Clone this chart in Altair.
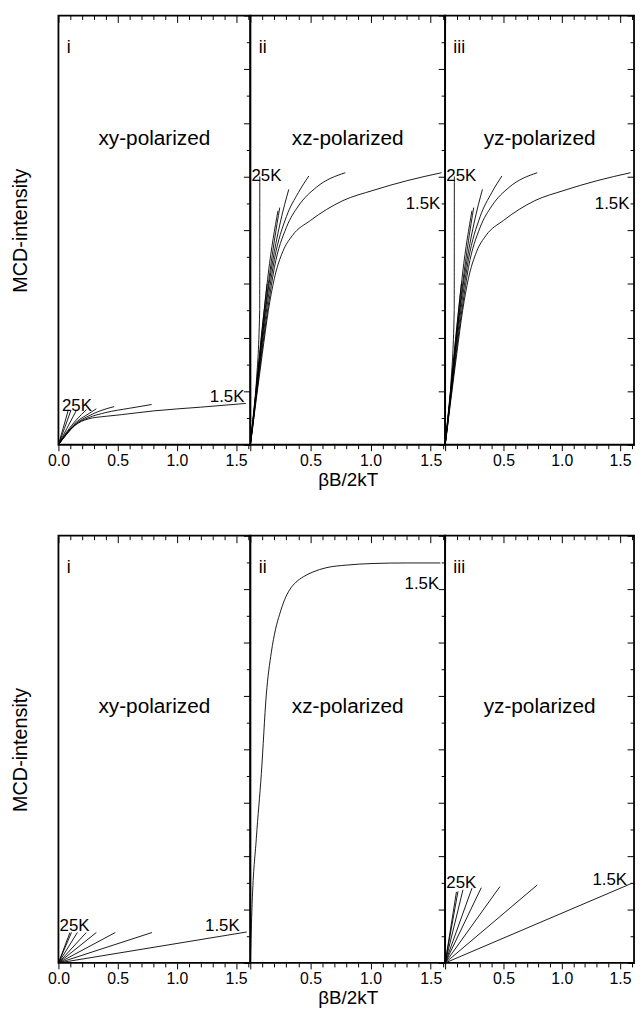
import altair as alt
import pandas as pd

FONT = "Liberation Sans"

# ---------------- data ----------------
TEMPS = ["1.5K", "3K", "5K", "7.5K", "10K", "15K", "20K", "25K"]

# top row, panel i (xy-polarized): (x list, y list) per temperature
TOP_XY = {
    "1.5K": ([0, 0.067, 0.14, 0.25, 0.4, 0.53, 0.8, 1.2, 1.583], [0, 0.19, 0.36, 0.48, 0.53, 0.56, 0.63, 0.70, 0.77]),
    "3K":   ([0, 0.07, 0.14, 0.25, 0.4, 0.6, 0.787], [0, 0.20, 0.37, 0.50, 0.60, 0.68, 0.75]),
    "5K":   ([0, 0.07, 0.14, 0.25, 0.35, 0.47], [0, 0.21, 0.38, 0.53, 0.63, 0.71]),
    "7.5K": ([0, 0.07, 0.15, 0.25, 0.32], [0, 0.22, 0.42, 0.57, 0.67]),
    "10K":  ([0, 0.07, 0.15, 0.237], [0, 0.24, 0.46, 0.655]),
    "15K":  ([0, 0.07, 0.153], [0, 0.30, 0.645]),
    "20K":  ([0, 0.05, 0.106], [0, 0.30, 0.645]),
    "25K":  ([0, 0.083], [0, 0.645]),
}

# top row, panel ii (xz-polarized)
TOP_XZ = {
    "1.5K": ([0, 0.05, 0.1, 0.15, 0.2, 0.27, 0.35, 0.5, 0.77, 1.02, 1.3, 1.59], [0, 0.85, 1.7, 2.5, 3.1, 3.6, 3.9, 4.18, 4.55, 4.74, 4.92, 5.07]),
    "3K":   ([0, 0.05, 0.1, 0.15, 0.2, 0.3, 0.4, 0.55, 0.79], [0, 0.9, 1.8, 2.6, 3.3, 4.05, 4.45, 4.8, 5.07]),
    "5K":   ([0, 0.05, 0.1, 0.15, 0.2, 0.3, 0.4, 0.487], [0, 0.95, 1.9, 2.75, 3.45, 4.25, 4.7, 5.01]),
    "7.5K": ([0, 0.05, 0.1, 0.15, 0.2, 0.25, 0.32], [0, 1.0, 2.0, 2.9, 3.6, 4.15, 4.76]),
    "10K":  ([0, 0.05, 0.1, 0.15, 0.2, 0.245], [0, 1.0, 2.05, 3.0, 3.8, 4.42]),
    "15K":  ([0, 0.05, 0.1, 0.15, 0.23], [0, 1.05, 2.15, 3.2, 4.36]),
    "20K":  ([0, 0.05, 0.1, 0.14], [0, 1.1, 2.2, 3.0]),
    "25K":  ([0, 0.05, 0.078, 0.079], [0, 1.15, 2.5, 5.0]),
}

# top row, panel iii (yz-polarized) – same shape as panel ii in the picture
TOP_YZ = {
    "1.5K": ([0, 0.05, 0.1, 0.15, 0.2, 0.27, 0.35, 0.5, 0.77, 1.02, 1.3, 1.59], [0, 0.85, 1.7, 2.5, 3.1, 3.6, 3.9, 4.18, 4.55, 4.74, 4.92, 5.07]),
    "3K":   ([0, 0.05, 0.1, 0.15, 0.2, 0.3, 0.4, 0.55, 0.79], [0, 0.9, 1.8, 2.6, 3.3, 4.05, 4.45, 4.8, 5.07]),
    "5K":   ([0, 0.05, 0.1, 0.15, 0.2, 0.3, 0.4, 0.487], [0, 0.95, 1.9, 2.75, 3.45, 4.25, 4.7, 5.01]),
    "7.5K": ([0, 0.05, 0.1, 0.15, 0.2, 0.25, 0.32], [0, 1.0, 2.0, 2.9, 3.6, 4.15, 4.76]),
    "10K":  ([0, 0.05, 0.1, 0.15, 0.2, 0.245], [0, 1.0, 2.05, 3.0, 3.8, 4.42]),
    "15K":  ([0, 0.05, 0.1, 0.15, 0.23], [0, 1.05, 2.15, 3.2, 4.36]),
    "20K":  ([0, 0.05, 0.1, 0.14], [0, 1.1, 2.2, 3.0]),
    "25K":  ([0, 0.05, 0.078, 0.079], [0, 1.15, 2.5, 5.0]),
}

# bottom row, panel i: straight lines from the origin to these end points
BOT_XY_XEND = [1.59, 0.79, 0.48, 0.32, 0.235, 0.16, 0.11, 0.097]
BOT_XY_YEND = [0.58, 0.57, 0.57, 0.57, 0.57, 0.57, 0.57, 0.57]

# bottom row, panel ii: one (overlapping) saturation curve
BOT_XZ_X = [0, 0.015, 0.05, 0.092, 0.133, 0.175, 0.21, 0.244, 0.285, 0.328, 0.38, 0.44, 0.52, 0.63, 0.8, 1.02, 1.3, 1.58]
BOT_XZ_Y = [0, 1.1, 2.33, 3.55, 5.02, 5.82, 6.25, 6.53, 6.8, 6.99, 7.13, 7.23, 7.32, 7.40, 7.45, 7.48, 7.49, 7.49]

# bottom row, panel iii: straight lines from the origin
BOT_YZ_XEND = [1.6, 0.79, 0.47, 0.31, 0.23, 0.153, 0.11, 0.097]
BOT_YZ_YEND = [1.49, 1.46, 1.43, 1.41, 1.40, 1.37, 1.34, 1.33]

PANEL_TITLES = ["xy-polarized", "xz-polarized", "yz-polarized"]
NUMERALS = ["i", "ii", "iii"]
PANEL_WIDTHS = [194, 197, 191]

# temperature labels: (text, x, y)
TOP_LEFT_LABELS = [("25K", 0.03, 0.73), ("25K", 0.01, 5.0), ("25K", 0.01, 5.0)]
TOP_RIGHT_LABELS = [("1.5K", 1.57, 0.89), ("1.5K", 1.58, 4.49), ("1.5K", 1.58, 4.49)]
BOT_LEFT_LABELS = [("25K", 0.01, 0.69), None, ("25K", 0.01, 1.5)]
BOT_RIGHT_LABELS = [("1.5K", 1.53, 0.69), ("1.5K", 1.57, 7.1), ("1.5K", 1.56, 1.56)]
TOP_TITLE_Y = 5.7
BOT_TITLE_Y = 4.8
NUMERAL_X = 0.07
NUMERAL_Y = 7.4

XTICKS = [round(i * 0.1, 1) for i in range(17)]
YTICKS = [i * 0.5 for i in range(17)]
X_DOMAIN = [0, 1.62]
Y_DOMAIN = [0, 8]


# ---------------- helpers ----------------
def curves_df(d):
    rows = []
    for t, (xs, ys) in d.items():
        for i, (x, y) in enumerate(zip(xs, ys)):
            rows.append({"T": t, "i": i, "x": x, "y": y})
    return pd.DataFrame(rows)


def rays_df(xend, yend):
    rows = []
    for t, x, y in zip(TEMPS, xend, yend):
        rows.append({"T": t, "i": 0, "x": 0.0, "y": 0.0})
        rows.append({"T": t, "i": 1, "x": x, "y": y})
    return pd.DataFrame(rows)


X_MAJOR = "abs(datum.value*2 - round(datum.value*2)) < 0.001"
Y_MAJOR = "abs(datum.value - round(datum.value)) < 0.001"

XS = alt.Scale(domain=X_DOMAIN, nice=False, zero=False)
YS = alt.Scale(domain=Y_DOMAIN, nice=False, zero=False)


def panel(df, col, title_y, left_lab, right_lab, height, smooth):
    if col == 0:
        lab_expr = f"({X_MAJOR}) ? format(datum.value, '.1f') : ''"
    else:
        lab_expr = f"(({X_MAJOR}) && datum.value > 0.01) ? format(datum.value, '.1f') : ''"
    xb = alt.Axis(
        orient="bottom", values=XTICKS, labelExpr=lab_expr, labelOverlap=False,
        labelFlush=False, domain=False, grid=False,
        tickSize={"expr": f"({X_MAJOR}) ? 6 : 4"}, labelPadding=2,
        labelFontSize=16, title="βB/2kT" if col == 1 else None,
        titleFontSize=19, titleFontWeight="normal", titlePadding=2,
    )
    if col == 0:
        yl = alt.Axis(orient="left", ticks=False, labels=False, domain=False, grid=False,
                      title="MCD-intensity", titleFontSize=20, titleFontWeight="normal",
                      titlePadding=28, minExtent=0)
    else:
        yl = None
    mark = alt.Chart(df).mark_line(color="black", strokeWidth=0.9,
                                   interpolate="monotone" if smooth else "linear")
    lines = mark.encode(
        x=alt.X("x:Q", scale=XS, axis=xb),
        y=alt.Y("y:Q", scale=YS, axis=yl),
        detail="T:N",
        order="i:Q",
    )
    xt = alt.Axis(orient="top", values=XTICKS, labels=False, domain=False, grid=False,
                  tickSize={"expr": f"({X_MAJOR}) ? -7 : -4"}, title=None,
                  minExtent=0, maxExtent=0)
    yr = alt.Axis(orient="right", values=YTICKS, labels=False, domain=False, grid=False,
                  tickSize={"expr": f"({Y_MAJOR}) ? -7 : -4"}, title=None,
                  minExtent=0, maxExtent=0)
    title_df = pd.DataFrame({"x": [0.81], "y": [title_y], "t": [PANEL_TITLES[col]]})
    title = alt.Chart(title_df).mark_text(fontSize=21, align="center", font=FONT, color="black").encode(
        x=alt.X("x:Q", scale=XS, axis=xt),
        y=alt.Y("y:Q", scale=YS, axis=yr),
        text="t:N",
    )
    num_df = pd.DataFrame({"x": [NUMERAL_X], "y": [NUMERAL_Y], "t": [NUMERALS[col]]})
    num = alt.Chart(num_df).mark_text(fontSize=18, align="left", font=FONT, color="black").encode(
        x=alt.X("x:Q", scale=XS, axis=None),
        y=alt.Y("y:Q", scale=YS, axis=None),
        text="t:N",
    )
    layers = [lines, title, num]
    if left_lab is not None:
        ldf = pd.DataFrame({"x": [left_lab[1]], "y": [left_lab[2]], "t": [left_lab[0]]})
        layers.append(alt.Chart(ldf).mark_text(fontSize=17, align="left", font=FONT, color="black").encode(
            x=alt.X("x:Q", scale=XS, axis=None), y=alt.Y("y:Q", scale=YS, axis=None), text="t:N"))
    if right_lab is not None:
        rdf = pd.DataFrame({"x": [right_lab[1]], "y": [right_lab[2]], "t": [right_lab[0]]})
        layers.append(alt.Chart(rdf).mark_text(fontSize=17, align="right", font=FONT, color="black").encode(
            x=alt.X("x:Q", scale=XS, axis=None), y=alt.Y("y:Q", scale=YS, axis=None), text="t:N"))
    return alt.layer(*layers).resolve_axis(x="independent", y="independent").properties(
        width=PANEL_WIDTHS[col], height=height)


top_dfs = [curves_df(TOP_XY), curves_df(TOP_XZ), curves_df(TOP_YZ)]
bot_dfs = [
    rays_df(BOT_XY_XEND, BOT_XY_YEND),
    pd.DataFrame({"T": "all", "i": list(range(len(BOT_XZ_X))), "x": BOT_XZ_X, "y": BOT_XZ_Y}),
    rays_df(BOT_YZ_XEND, BOT_YZ_YEND),
]

top_row = alt.hconcat(
    *[panel(top_dfs[c], c, TOP_TITLE_Y, TOP_LEFT_LABELS[c], TOP_RIGHT_LABELS[c], 434, True)
      for c in range(3)],
    spacing=0, bounds="flush")
bot_row = alt.hconcat(
    *[panel(bot_dfs[c], c, BOT_TITLE_Y, BOT_LEFT_LABELS[c], BOT_RIGHT_LABELS[c], 432, c == 1)
      for c in range(3)],
    spacing=0, bounds="flush")

chart = alt.vconcat(top_row, bot_row, spacing=44).properties(
    padding={"left": 2, "top": 0, "right": 0, "bottom": 0}
).configure_view(stroke="black", strokeWidth=1.8).configure_axis(
    tickColor="black", tickWidth=1, labelColor="black", titleColor="black",
    labelFont=FONT, titleFont=FONT,
).configure_text(font=FONT)

chart.save("out.html", embed_options={"renderer": "svg", "actions": False})
